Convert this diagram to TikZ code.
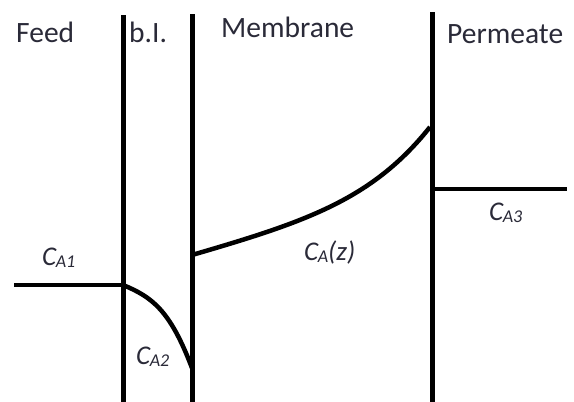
\documentclass[tikz,border=0pt]{standalone}
\usepackage{fontspec}
\setmainfont{Carlito}
\definecolor{txt}{HTML}{2A2A38}
\begin{document}
\begin{tikzpicture}[x=1pt,y=-1pt,
  wall/.style={line width=5pt},
  prof/.style={line width=4.5pt},
  lbl/.style={inner sep=0pt,anchor=base west,font=\fontsize{29.5}{32}\selectfont,text=txt},
  clbl/.style={inner sep=0pt,anchor=base west,font=\fontsize{27}{30}\selectfont\itshape,text=txt}]
\useasboundingbox (0,0) rectangle (574,402);
\newcommand{\csub}[1]{C\kern-0.5pt\raisebox{-0.2ex}{\fontsize{18}{20}\selectfont #1}}
% walls
\coordinate (w1t) at (123,15); \coordinate (w1b) at (123,402);
\coordinate (w2t) at (192,14); \coordinate (w2b) at (192,402);
\coordinate (w3t) at (432,12); \coordinate (w3b) at (432,402);
\draw[wall] (w1t) -- (w1b);
\draw[wall] (w2t) -- (w2b);
\draw[wall] (w3t) -- (w3b);
% profile
\coordinate (f0) at (14,285);
\coordinate (f1) at (123,285);
\coordinate (b1) at (192,368);
\coordinate (m0) at (192,255);
\coordinate (m1) at (430,127);
\coordinate (p0) at (432,189);
\coordinate (p1) at (567,189);
\draw[prof] (f0) -- (f1);
\draw[prof,line join=round] (f1) .. controls (152,297) and (170,310) .. (b1);
\draw[prof] (m0) .. controls (305,222) and (372,200) .. (m1);
\draw[prof] (p0) -- (p1);
% labels
\node[lbl] (feed) at (16,42) {Feed};
\node[lbl] (bi) at (129,42) {b.I.};
\node[lbl] (mem) at (221,37) {Membrane};
\node[lbl] (perm) at (447,43) {Permeate};
\node[clbl] (ca1) at (42,265) {\csub{A1}};
\node[clbl] (ca2) at (136,364) {\csub{A2}};
\node[clbl] (ca3) at (489,220) {\csub{A3}};
\node[clbl] (caz) at (304,260) {\csub{A}(z)};
\end{tikzpicture}
\end{document}
